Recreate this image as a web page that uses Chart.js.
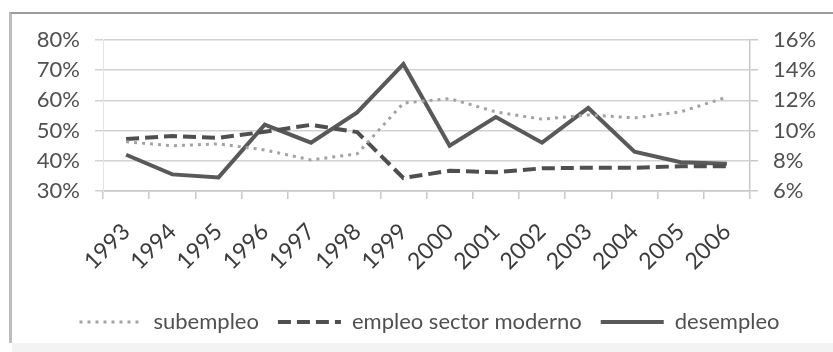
<!DOCTYPE html>
<html>
<head>
<meta charset="utf-8">
<script src="https://cdn.jsdelivr.net/npm/chart.js@4/dist/chart.umd.min.js"></script>
<style>
    body { margin: 0; background: #ffffff; }
    #wrap { position: relative; width: 833px; height: 352px; overflow: hidden; }
    #frame { position: absolute; left: 9px; top: 12px; width: 830px; height: 329px;
             border-top: 2px solid #9c9c9c; border-left: 3px solid #bdbdbd; }
    #foot { position: absolute; left: 12px; top: 343px; width: 821px; height: 9px; background: #f3f3f3; }
    canvas { position: absolute; left: 0; top: 0; }
</style>
</head>
<body>
<div id="wrap">
    <div id="frame"></div>
    <div id="foot"></div>
    <canvas id="chart" width="833" height="352"></canvas>
</div>
<script>
var years = ["1993", "1994", "1995", "1996", "1997", "1998", "1999",
             "2000", "2001", "2002", "2003", "2004", "2005", "2006"];
// left axis (%)
var subempleo = [46.3, 45.0, 45.6, 43.6, 40.3, 42.3, 59.1, 60.6, 56.2, 53.8, 55.2, 54.2, 56.2, 61.1];
var empleoModerno = [47.2, 48.2, 47.6, 49.6, 51.9, 49.5, 34.3, 36.7, 36.2, 37.5, 37.7, 37.7, 38.2, 38.2];
// right axis (%)
var desempleo = [8.4, 7.1, 6.9, 10.4, 9.2, 11.2, 14.4, 9.0, 10.9, 9.2, 11.5, 8.6, 7.9, 7.8];

var leftTicks = [30, 80, 10];   // min, max, step
var rightTicks = [6, 16, 2];

var textColor = "#505050";
var fontFamily = "Lato, 'Open Sans', sans-serif";

function pct(v) {
    return v + "%";
}

// legend samples: keep the dataset dash pattern on the line sample
function legendLabels(chart) {
    var items = Chart.defaults.plugins.legend.labels.generateLabels(chart);
    for (var i = 0; i < items.length; i++) {
        var ds = chart.data.datasets[items[i].datasetIndex];
        items[i].lineDash = ds.borderDash || [];
        items[i].lineWidth = ds.borderWidth;
        items[i].strokeStyle = ds.borderColor;
        items[i].lineCap = "butt";
    }
    return items;
}

var ctx = document.getElementById("chart");
var chart = new Chart(ctx, {
    type: "line",
    data: {
        labels: years,
        datasets: [
            {
                label: "subempleo",
                data: subempleo,
                yAxisID: "y",
                borderColor: "#a3a3a3",
                borderWidth: 3,
                borderDash: [3, 5],
                pointRadius: 0,
                tension: 0
            },
            {
                label: "empleo sector moderno",
                data: empleoModerno,
                yAxisID: "y",
                borderColor: "#4f4f4f",
                borderWidth: 4,
                borderDash: [13, 6],
                pointRadius: 0,
                tension: 0
            },
            {
                label: "desempleo",
                data: desempleo,
                yAxisID: "y1",
                borderColor: "#595959",
                borderWidth: 4,
                pointRadius: 0,
                tension: 0
            }
        ]
    },
    options: {
        responsive: false,
        animation: false,
        layout: {
            padding: { left: 26, top: 40, right: 0, bottom: 9 }
        },
        plugins: {
            tooltip: { enabled: false },
            legend: {
                position: "bottom",
                labels: {
                    usePointStyle: true,
                    pointStyle: "line",
                    pointStyleWidth: 63,
                    padding: 19,
                    color: textColor,
                    font: { family: fontFamily, size: 22 },
                    generateLabels: legendLabels
                }
            }
        },
        scales: {
            x: {
                offset: true,
                grid: {
                    offset: true,
                    drawOnChartArea: false,
                    tickLength: 8,
                    color: "#c8c8c8",
                    lineWidth: 1.5
                },
                border: { color: "#c8c8c8", width: 1.5 },
                ticks: {
                    minRotation: 45,
                    maxRotation: 45,
                    padding: 19,
                    color: "#3c3c3c",
                    font: { family: fontFamily, size: 23 }
                },
                afterFit: function (scale) {
                    scale.height = 101;
                }
            },
            y: {
                position: "left",
                min: leftTicks[0],
                max: leftTicks[1],
                grid: {
                    color: "#d2d2d2",
                    lineWidth: 1.5,
                    tickLength: 8
                },
                border: { color: "#e4e4e4", width: 1 },
                ticks: {
                    stepSize: leftTicks[2],
                    padding: 15,
                    color: textColor,
                    font: { family: fontFamily, size: 22 },
                    callback: pct
                },
                afterFit: function (scale) {
                    scale.width = 77;
                }
            },
            y1: {
                position: "right",
                min: rightTicks[0],
                max: rightTicks[1],
                grid: {
                    drawOnChartArea: false,
                    color: "#c8c8c8",
                    lineWidth: 1.5,
                    tickLength: 8
                },
                border: { color: "#c8c8c8", width: 1.5 },
                ticks: {
                    stepSize: rightTicks[2],
                    padding: 15,
                    color: textColor,
                    font: { family: fontFamily, size: 22 },
                    callback: pct
                },
                afterFit: function (scale) {
                    scale.width = 83;
                }
            }
        }
    }
});
</script>
</body>
</html>
